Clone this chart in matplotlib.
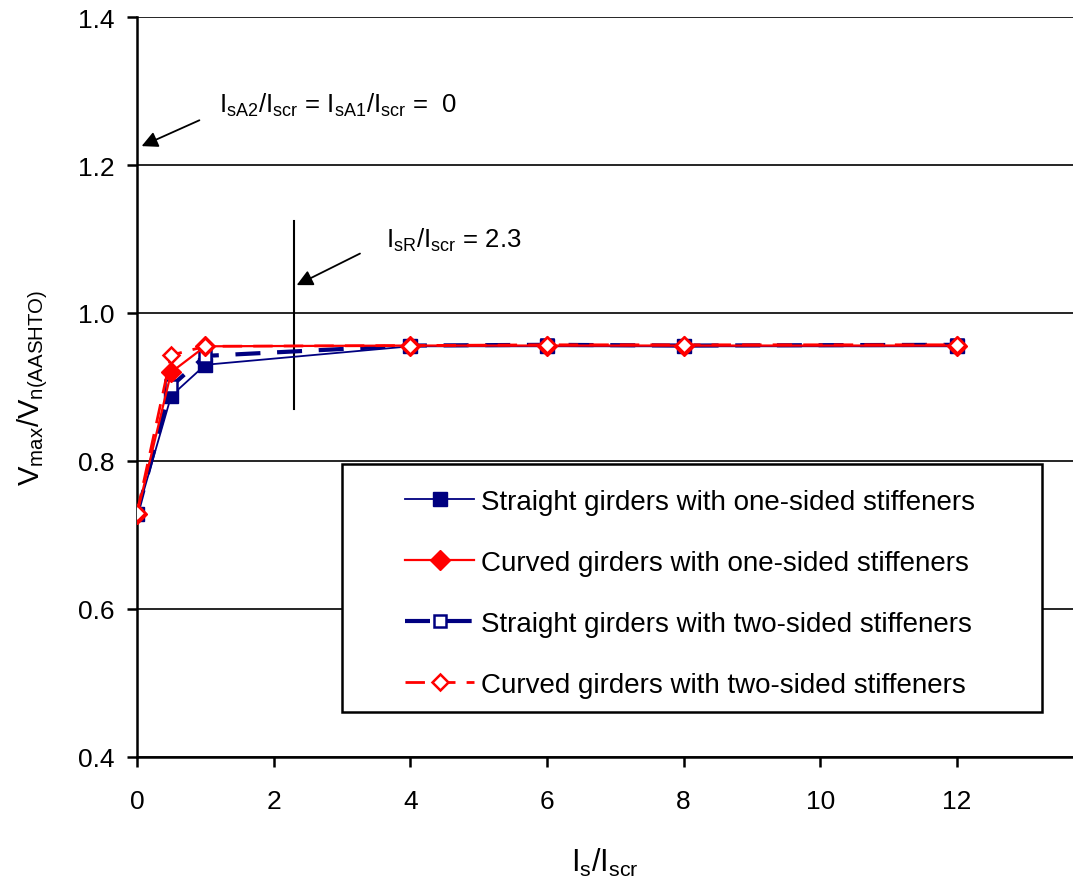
import numpy as np
import matplotlib
matplotlib.use("Agg")
import matplotlib.pyplot as plt
from matplotlib.patches import Rectangle

plt.rcParams['font.family'] = ['Liberation Sans', 'DejaVu Sans']

x = [0, 0.5, 1, 4, 6, 8, 12]
straight_one = [0.728, 0.888, 0.930, 0.955, 0.955, 0.955, 0.955]
curved_one = [0.728, 0.920, 0.955, 0.956, 0.956, 0.956, 0.956]
straight_two = [0.728, 0.901, 0.942, 0.956, 0.957, 0.956, 0.957]
curved_two = [0.730, 0.943, 0.955, 0.956, 0.957, 0.957, 0.957]

labels = ["Straight girders with one-sided stiffeners",
          "Curved girders with one-sided stiffeners",
          "Straight girders with two-sided stiffeners",
          "Curved girders with two-sided stiffeners"]

navy = "#000080"
red = "#ff0000"

fig = plt.figure(figsize=(10.73, 8.79), dpi=100)
ax = fig.add_axes([0.1277, 0.1377, 0.8723, 0.8418])

ax.plot(x, straight_one, color=navy, lw=1.3, marker='s', ms=10, mfc=navy, mec=navy, label=labels[0], zorder=3)
ax.plot(x, curved_one, color=red, lw=1.6, marker='D', ms=10, mfc=red, mec=red, label=labels[1], zorder=4)
ax.plot(x, straight_two, color=navy, lw=3, dashes=(6, 4), marker='s', ms=8, mfc='white', mec=navy, mew=1.8, label=labels[2], zorder=3)
ax.plot(x, curved_two, color=red, lw=2, dashes=(7, 4), marker='D', ms=8, mfc='white', mec=red, mew=1.8, label=labels[3], zorder=4)

ax.set_xlim(0, 13.7)
ax.set_ylim(0.4, 1.4)
ax.set_xticks([0, 2, 4, 6, 8, 10, 12])
ax.set_yticks([0.4, 0.6, 0.8, 1.0, 1.2, 1.4])
ax.set_yticklabels(["0.4", "0.6", "0.8", "1.0", "1.2", "1.4"])
ax.yaxis.grid(True, color='black', lw=1.2)
ax.set_axisbelow(True)
for s in ['top', 'right']:
    ax.spines[s].set_visible(False)
ax.spines['left'].set_linewidth(1.8)
ax.spines['bottom'].set_linewidth(1.8)
ax.tick_params(labelsize=19, width=1.8, length=7, direction='out')
ax.tick_params(axis='y', pad=9)
ax.tick_params(axis='x', pad=16)

ax.set_xlabel(r"I$_\mathregular{s}$/I$_\mathregular{scr}$", fontsize=22, labelpad=24)
ax.set_ylabel(r"V$_\mathregular{max}$/V$_\mathregular{n(AASHTO)}$", fontsize=21, labelpad=20)

# annotations
ax.plot([2.3, 2.3], [0.87, 1.125], color='black', lw=1.5)
ax.annotate("", xy=(2.3, 1.036), xytext=(3.3, 1.082),
            arrowprops=dict(arrowstyle='-|>', color='black', lw=1.3, mutation_scale=24))
ax.text(3.65, 1.10, r"I$_\mathregular{sR}$/I$_\mathregular{scr}$ = 2.3", fontsize=18.5, va='center')
ax.annotate("", xy=(0.03, 1.224), xytext=(0.95, 1.262),
            arrowprops=dict(arrowstyle='-|>', color='black', lw=1.3, mutation_scale=24))
ax.text(1.2, 1.282, r"I$_\mathregular{sA2}$/I$_\mathregular{scr}$ = I$_\mathregular{sA1}$/I$_\mathregular{scr}$ =  0",
        fontsize=18.5, va='center')

# legend box drawn separately so the entries can sit inset like the original
ax.add_patch(Rectangle((0.219, 0.0608), 0.748, 0.335, transform=ax.transAxes,
                       facecolor='white', edgecolor='black', lw=1.8, zorder=5))
leg = ax.legend(loc='upper left', bbox_to_anchor=(0.2863, 0.3622),
                fontsize=20, frameon=False, handlelength=2.5, labelspacing=1.26,
                borderpad=0, handletextpad=0.25, borderaxespad=0)
leg.set_zorder(6)

fig.savefig("out.png", dpi=100)
